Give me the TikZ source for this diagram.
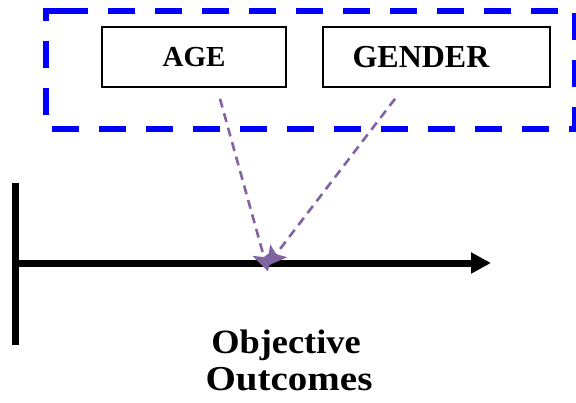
\documentclass[tikz,border=0pt]{standalone}
\usepackage{fontspec}
\setmainfont{Liberation Serif}
\usetikzlibrary{arrows.meta,calc}
\definecolor{frameblue}{RGB}{0,0,255}
\definecolor{linkpurple}{RGB}{128,100,162}
\begin{document}
\begin{tikzpicture}[x=1pt,y=-1pt,
  factor/.style={draw=black,line width=1.6pt,minimum width=184pt,minimum height=60pt,
    inner sep=0pt,font=\fontsize{29}{29}\selectfont\bfseries},
  groupframe/.style={draw=frameblue,line width=6pt,dash pattern=on 27pt off 20pt},
  axis/.style={draw=black,line width=7pt},
  link/.style={draw=linkpurple,line width=2.6pt,dash pattern=on 9pt off 6pt,
    -{Stealth[length=19pt,width=21pt,inset=4pt]}},
  outcome/.style={anchor=base,inner sep=0pt}]
\useasboundingbox (0,0) rectangle (576,402);

% dashed frame around the two factors
\draw[groupframe] (62,10.7) -- (45.5,10.7) -- (45.5,128.5) -- (575,128.5) -- (575,10.7) -- cycle;

% factor boxes
\node[factor] (age) at (194,57) {AGE};
\node[factor,minimum width=227pt,font=\fontsize{32}{32}\selectfont\bfseries] (gender) at (436.5,57) {GENDER\hspace*{31pt}};

% time axis
\coordinate (axtop) at (15,183);
\coordinate (axbot) at (15,345);
\coordinate (origin) at (15,263);
\coordinate (axend) at (491,263);
\draw[axis] (axtop) -- (axbot);
\draw[axis,-{Triangle[length=20pt,width=20pt]}] (origin) -- (axend);

% the two influences meet on the axis
\coordinate (meetage) at (268,271.5);
\coordinate (meetgender) at (267,266);
\draw[link] ($(age.south)+(26,11)$) -- (meetage);
\draw[link] ($(gender.south)+(-41.5,11)$) -- (meetgender);

\node[outcome,font=\fontsize{34}{34}\selectfont\bfseries] (outc1) at (286,353.5) {\scalebox{1.07}[1]{Objective}};
\node[outcome,font=\fontsize{35}{35}\selectfont\bfseries] (outc2) at (289,390.5) {\scalebox{1.115}[1]{Outcomes}};
\end{tikzpicture}
\end{document}
